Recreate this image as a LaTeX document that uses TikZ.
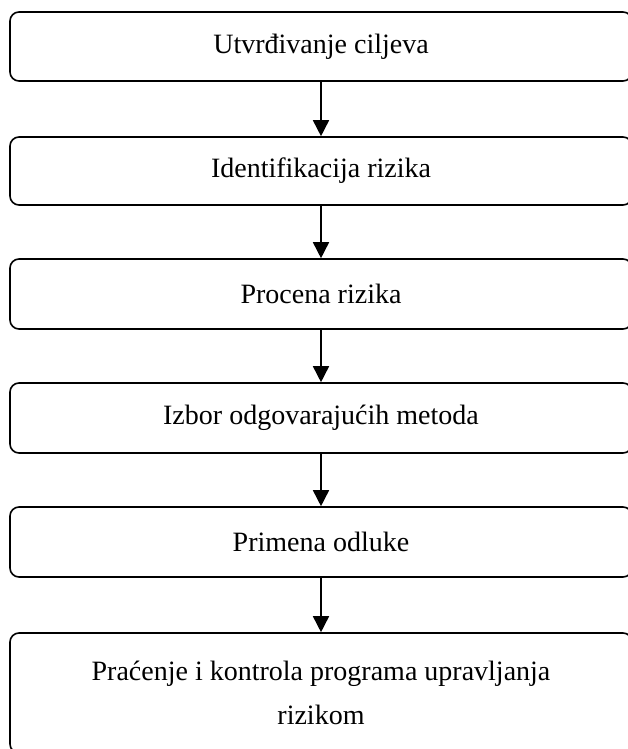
\documentclass[tikz,border=0pt]{standalone}
\usepackage{fontspec}
\setmainfont{Liberation Serif}
\usetikzlibrary{arrows.meta}
\begin{document}
\begin{tikzpicture}[x=1pt,y=-1pt,
  stepbox/.style={draw=black,line width=1.6pt,rounded corners=9pt,minimum width=622pt,inner sep=0pt,align=center,font=\fontsize{28}{44}\selectfont},
  flow/.style={line width=1.6pt,-{Triangle[width=16pt,length=16pt]}}]
\useasboundingbox (0,0) rectangle (628,749);
\clip (0,0) rectangle (628,749);
\node[stepbox,minimum height=69pt] (s1) at (321,46.5) {Utvrđivanje ciljeva};
\node[stepbox,minimum height=68pt] (s2) at (321,171) {Identifikacija rizika};
\node[stepbox,minimum height=70pt] (s3) at (321,294) {Procena rizika};
\node[stepbox,minimum height=70pt] (s4) at (321,418) {Izbor odgovarajućih metoda};
\node[stepbox,minimum height=70pt] (s5) at (321,542) {Primena odluke};
\node[stepbox,minimum height=120pt] (s6) at (321,693) {Praćenje i kontrola programa upravljanja\\rizikom};
\draw[flow] (s1) -- (s2);
\draw[flow] (s2) -- (s3);
\draw[flow] (s3) -- (s4);
\draw[flow] (s4) -- (s5);
\draw[flow] (s5) -- (s6);
\end{tikzpicture}
\end{document}
